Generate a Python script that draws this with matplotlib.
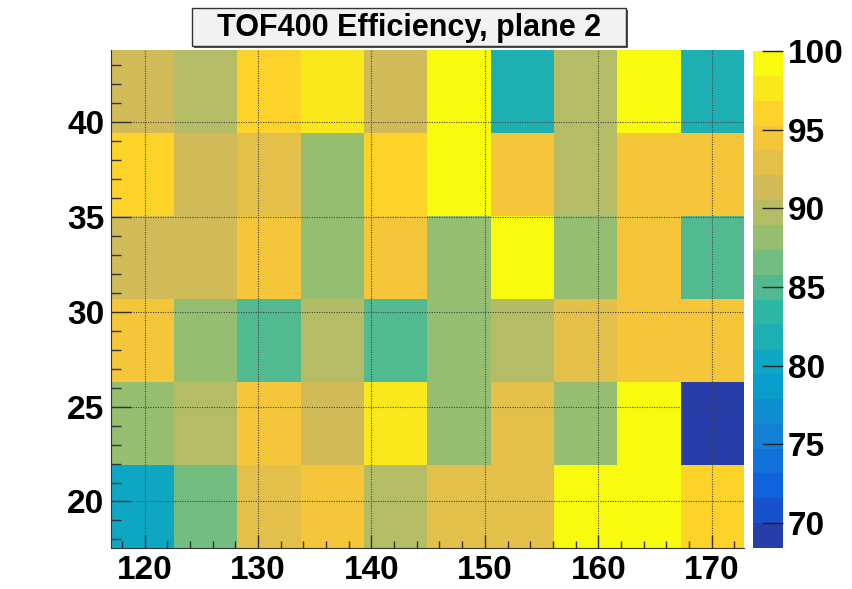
import numpy as np
import matplotlib.pyplot as plt
from matplotlib.colors import LinearSegmentedColormap, ListedColormap, Normalize
from matplotlib.patches import Rectangle

plt.rcParams['font.family'] = ['Liberation Sans', 'DejaVu Sans']
plt.rcParams['font.weight'] = 'bold'

# bin edges of the 2D histogram
x_edges = [117.03, 122.61, 128.19, 133.77, 139.35, 144.93, 150.51, 156.09, 161.67, 167.25, 172.83]
y_edges = [17.55, 21.92, 26.29, 30.66, 35.03, 39.40, 43.77]

# efficiency (%) per cell, rows from bottom (y) to top
eff_row1 = [80.1, 86.5, 92.7, 94.3, 89.7, 92.9, 92.8, 100.0, 100.0, 96.1]
eff_row2 = [88.1, 89.5, 94.5, 91.3, 97.5, 87.9, 92.9, 88.0, 100.0, 68.4]
eff_row3 = [94.4, 88.2, 84.7, 89.6, 84.9, 88.1, 89.5, 92.8, 94.3, 94.5]
eff_row4 = [91.1, 91.3, 94.4, 88.0, 94.5, 87.9, 100.0, 88.1, 94.4, 84.8]
eff_row5 = [96.0, 91.2, 92.9, 88.1, 96.1, 100.0, 94.3, 89.7, 94.4, 94.5]
eff_row6 = [91.2, 89.6, 96.0, 97.6, 91.1, 100.0, 81.7, 89.5, 100.0, 81.5]

z = np.array([eff_row1, eff_row2, eff_row3, eff_row4, eff_row5, eff_row6])

x_ticks = [120, 130, 140, 150, 160, 170]
y_ticks = [20, 25, 30, 35, 40]
z_ticks = [70, 75, 80, 85, 90, 95, 100]

# ROOT kBird palette, 255 colours, 20 contour levels
stops = [0.0, 0.125, 0.25, 0.375, 0.5, 0.625, 0.75, 0.875, 1.0]
red = [0.2082, 0.0592, 0.0780, 0.0232, 0.1802, 0.5301, 0.8186, 0.9956, 0.9764]
green = [0.1664, 0.3599, 0.5041, 0.6419, 0.7178, 0.7492, 0.7328, 0.7862, 0.9832]
blue = [0.5293, 0.8684, 0.8385, 0.7914, 0.6425, 0.4662, 0.3499, 0.1968, 0.0539]
bird = LinearSegmentedColormap.from_list(
    'bird', list(zip(stops, zip(red, green, blue))), N=255)
ndiv = 20
level_cols = [bird(int((k + 0.99) * 255 / ndiv) / 254) for k in range(ndiv)]
cmap = ListedColormap(level_cols)
norm = Normalize(vmin=z.min(), vmax=100)

fig = plt.figure(figsize=(8.53, 5.89), dpi=100)
ax = fig.add_axes([0.130, 0.0696, 0.742, 0.845])
mesh = ax.pcolormesh(x_edges, y_edges, z, cmap=cmap, norm=norm, zorder=1)

ax.set_xlim(x_edges[0], x_edges[-1])
ax.set_ylim(y_edges[0], y_edges[-1])
ax.set_xticks(x_ticks)
ax.set_yticks(y_ticks)
ax.set_xticks(np.arange(118, 173, 2), minor=True)
ax.set_yticks(np.arange(18, 44, 1), minor=True)
ax.tick_params(axis='both', which='both', direction='in', width=1.0,
               color='#333333', labelsize=24)
ax.tick_params(axis='x', which='major', length=9.5, pad=5)
ax.tick_params(axis='x', which='minor', length=5)
ax.tick_params(axis='y', which='major', length=14.4, pad=4.8)
ax.tick_params(axis='y', which='minor', length=7.2)
ax.tick_params(top=False, right=False, which='both')
ax.grid(True, which='major', linestyle=(0, (1, 1.2)), color='#444444', linewidth=0.8)
ax.set_axisbelow(False)
for side in ['top', 'right']:
    ax.spines[side].set_visible(False)
for side in ['left', 'bottom']:
    ax.spines[side].set_linewidth(0.8)
    ax.spines[side].set_color('#333333')

# palette axis on the right
cax = fig.add_axes([0.8831, 0.0696, 0.0345, 0.8438])
cb = fig.colorbar(mesh, cax=cax, ticks=z_ticks)
cb.outline.set_visible(False)
cax.tick_params(direction='in', length=15, width=1.0, color='#222222',
                labelsize=24, pad=3.6)

# title in a box with a shadow edge
fig.add_artist(Rectangle((0.2275, 0.9185), 0.5085, 0.065, transform=fig.transFigure,
                         facecolor='#555555', edgecolor='none'))
fig.add_artist(Rectangle((0.2251, 0.9219), 0.5085, 0.0645, transform=fig.transFigure,
                         facecolor='#f2f2f2', edgecolor='#333333', linewidth=1.0))
fig.text(0.4795, 0.9385, 'TOF400 Efficiency, plane 2', ha='center', va='baseline',
         fontsize=22, fontweight='bold')

fig.savefig('out.png', dpi=100)
